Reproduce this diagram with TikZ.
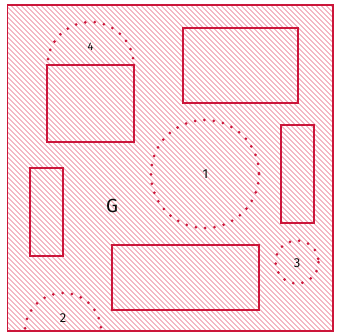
\documentclass[tikz,border=0pt]{standalone}
\usepackage{fontspec}
\setmainfont{Fira Sans}
\definecolor{lineRed}{RGB}{204,22,58}
\definecolor{hatchRed}{RGB}{234,110,136}
\definecolor{textGray}{RGB}{15,15,15}
\newcommand\myhatch{\foreach \k in {-68,...,68} \draw[hatchline] (\k*5+0.5,0) -- ++(340,340);}
\begin{document}
\begin{tikzpicture}[x=1pt,y=-1pt,
  hatchline/.style={draw=hatchRed,line width=0.65pt},
  region/.style={draw=lineRed,line width=2pt},
  dotcircle/.style={draw=lineRed,line width=3pt,line cap=round,dash pattern=on 0pt off 9.4pt},
  lbl/.style={text=textGray,inner sep=0pt,font=\fontsize{13}{13}\selectfont}]
\useasboundingbox (0,0) rectangle (337,335);
\fill[white] (0,0) rectangle (337,335);
% outer region G
\begin{scope}
\clip (7.5,5) rectangle (333,331);
\myhatch
\coordinate (c1) at (205,174);
\coordinate (c2) at (63,331);
\coordinate (c3) at (297,262);
\coordinate (c4) at (90.5,65);
\draw[dotcircle] (c1) circle[radius=54];
\draw[dotcircle] (c2) circle[radius=38];
\draw[dotcircle] (c3) circle[radius=21.5];
\draw[dotcircle] (c4) circle[radius=43];
% rectangles hide circles beneath
\fill[white] (47,65) rectangle (134,142);
\clip (47,65) rectangle (134,142);
\myhatch
\end{scope}
\draw[lineRed,line width=1.6pt] (7.5,5) rectangle (333,331);
% rectangles
\draw[region] (47,65) rectangle (134,142);
\draw[region] (183,28) rectangle (298,103);
\draw[region] (281,125) rectangle (314,223);
\draw[region] (30,168) rectangle (63,256);
\draw[region] (112,245) rectangle (259,310);
% labels
\node[lbl] (l1) at (205.5,174) {1};
\node[lbl] (l2) at (63,318) {2};
\node[lbl] (l3) at (297,263) {3};
\node[lbl,font=\fontsize{11}{11}\selectfont] (l4) at (90.5,47) {4};
\node[lbl,font=\fontsize{19}{19}\selectfont] (g) at (112,206) {G};
\end{tikzpicture}
\end{document}
